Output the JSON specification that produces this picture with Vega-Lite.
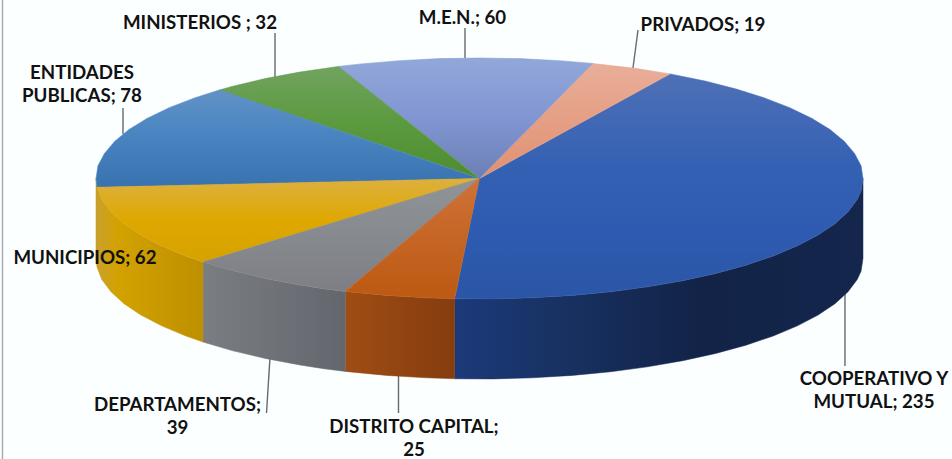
{"$schema":"https://vega.github.io/schema/vega-lite/v6.json","width":952,"height":459,"padding":0,"autosize":{"type":"none"},"background":"#fcffff","view":{"stroke":null},
"encoding":{"x":{"field":"x","type":"quantitative","axis":null,"scale":{"domain":[-1.2503,1.2321],"nice":false,"zero":false}},"y":{"field":"y","type":"quantitative","axis":null,"scale":{"domain":[-2.3278,1.4813],"nice":false,"zero":false}}},
"layer":[
{"data":{"values":[{"x":-1.2438,"y":1.4813,"y2":-2.3278}]},"mark":{"type":"rule","color":"#a9acb0","strokeWidth":1.5},"encoding":{"y2":{"field":"y2"}}},
{"data":{"values":[
{"slice":"MINISTERIOS","x":-0.5332,"y":1.2075,"x2":-0.5332,"y2":0.8423},
{"slice":"M.E.N.","x":-0.0378,"y":1.249,"x2":-0.0378,"y2":1.0},
{"slice":"PRIVADOS","x":0.4133,"y":1.2324,"x2":0.4003,"y2":0.917},
{"slice":"ENTIDADES PUBLICAS","x":-0.9296,"y":0.585,"x2":-0.9296,"y2":0.3693},
{"slice":"DEPARTAMENTOS","x":-0.5463,"y":-1.4896,"x2":-0.5554,"y2":-1.946},
{"slice":"DISTRITO CAPITAL","x":-0.2112,"y":-1.6307,"x2":-0.2112,"y2":-1.946},
{"slice":"COOPERATIVO Y MUTUAL","x":0.953,"y":-0.9502,"x2":0.953,"y2":-1.556}]},
"mark":{"type":"rule","color":"#666a6e","strokeWidth":1.4},"encoding":{"x2":{"field":"x2"},"y2":{"field":"y2"}}},
{"data":{"values":[{"i":0,"x":1,"y":0},{"i":1,"x":0.995,"y":-0.105},{"i":2,"x":0.985,"y":-0.174},{"i":3,"x":0.961,"y":-0.276},{"i":4,"x":0.927,"y":-0.375},{"i":5,"x":0.883,"y":-0.469},{"i":6,"x":0.829,"y":-0.559},{"i":7,"x":0.766,"y":-0.643},{"i":8,"x":0.695,"y":-0.719},{"i":9,"x":0.616,"y":-0.788},{"i":10,"x":0.53,"y":-0.848},{"i":11,"x":0.438,"y":-0.899},{"i":12,"x":0.342,"y":-0.94},{"i":13,"x":0.242,"y":-0.97},{"i":14,"x":0.139,"y":-0.99},{"i":15,"x":0.035,"y":-0.999},{"i":16,"x":-0.065,"y":-0.998},{"i":17,"x":-0.065,"y":-1.662},{"i":18,"x":0.035,"y":-1.663},{"i":19,"x":0.139,"y":-1.654},{"i":20,"x":0.242,"y":-1.634},{"i":21,"x":0.342,"y":-1.604},{"i":22,"x":0.438,"y":-1.563},{"i":23,"x":0.53,"y":-1.512},{"i":24,"x":0.616,"y":-1.452},{"i":25,"x":0.695,"y":-1.383},{"i":26,"x":0.766,"y":-1.307},{"i":27,"x":0.829,"y":-1.223},{"i":28,"x":0.883,"y":-1.133},{"i":29,"x":0.927,"y":-1.039},{"i":30,"x":0.961,"y":-0.94},{"i":31,"x":0.985,"y":-0.838},{"i":32,"x":0.995,"y":-0.769},{"i":33,"x":1,"y":-0.664}]},
"mark":{"type":"line","interpolate":"linear-closed","stroke":"#152b56","strokeWidth":0.5,"fill":{"gradient":"linear","x1":0,"y1":0,"x2":1,"y2":0,"stops":[{"offset":0,"color":"#1c3a7a"},{"offset":0.3,"color":"#17305f"},{"offset":0.6,"color":"#122347"},{"offset":1,"color":"#14264c"}]}},"encoding":{"order":{"field":"i","type":"quantitative"}}},
{"data":{"values":[{"i":0,"x":-0.065,"y":-0.998},{"i":1,"x":-0.139,"y":-0.99},{"i":2,"x":-0.242,"y":-0.97},{"i":3,"x":-0.35,"y":-0.937},{"i":4,"x":-0.35,"y":-1.601},{"i":5,"x":-0.242,"y":-1.634},{"i":6,"x":-0.139,"y":-1.654},{"i":7,"x":-0.065,"y":-1.662}]},
"mark":{"type":"line","interpolate":"linear-closed","stroke":"#924512","strokeWidth":0.5,"fill":{"gradient":"linear","x1":0,"y1":0,"x2":1,"y2":0,"stops":[{"offset":0,"color":"#9f4d14"},{"offset":1,"color":"#853c0f"}]}},"encoding":{"order":{"field":"i","type":"quantitative"}}},
{"data":{"values":[{"i":0,"x":-0.35,"y":-0.937},{"i":1,"x":-0.407,"y":-0.914},{"i":2,"x":-0.469,"y":-0.883},{"i":3,"x":-0.559,"y":-0.829},{"i":4,"x":-0.643,"y":-0.766},{"i":5,"x":-0.721,"y":-0.693},{"i":6,"x":-0.721,"y":-1.357},{"i":7,"x":-0.643,"y":-1.43},{"i":8,"x":-0.559,"y":-1.493},{"i":9,"x":-0.469,"y":-1.547},{"i":10,"x":-0.407,"y":-1.578},{"i":11,"x":-0.35,"y":-1.601}]},
"mark":{"type":"line","interpolate":"linear-closed","stroke":"#6e7176","strokeWidth":0.5,"fill":{"gradient":"linear","x1":0,"y1":0,"x2":1,"y2":0,"stops":[{"offset":0,"color":"#7a7e82"},{"offset":1,"color":"#63666d"}]}},"encoding":{"order":{"field":"i","type":"quantitative"}}},
{"data":{"values":[{"i":0,"x":-0.721,"y":-0.693},{"i":1,"x":-0.766,"y":-0.643},{"i":2,"x":-0.829,"y":-0.559},{"i":3,"x":-0.883,"y":-0.469},{"i":4,"x":-0.927,"y":-0.375},{"i":5,"x":-0.961,"y":-0.276},{"i":6,"x":-0.985,"y":-0.174},{"i":7,"x":-0.9973,"y":-0.0732},{"i":8,"x":-1,"y":0},{"i":9,"x":-1,"y":-0.664},{"i":10,"x":-0.9973,"y":-0.7372},{"i":11,"x":-0.985,"y":-0.838},{"i":12,"x":-0.961,"y":-0.94},{"i":13,"x":-0.927,"y":-1.039},{"i":14,"x":-0.883,"y":-1.133},{"i":15,"x":-0.829,"y":-1.223},{"i":16,"x":-0.766,"y":-1.307},{"i":17,"x":-0.721,"y":-1.357}]},
"mark":{"type":"line","interpolate":"linear-closed","stroke":"#c99a08","strokeWidth":0.5,"fill":{"gradient":"linear","x1":0,"y1":0,"x2":1,"y2":0,"stops":[{"offset":0,"color":"#c9a030"},{"offset":0.2,"color":"#d3a200"},{"offset":1,"color":"#be8f00"}]}},"encoding":{"order":{"field":"i","type":"quantitative"}}},
{"data":{"values":[{"i":0,"x":0,"y":0},{"i":1,"x":0.497,"y":0.868},{"i":2,"x":0.588,"y":0.809},{"i":3,"x":0.669,"y":0.743},{"i":4,"x":0.743,"y":0.669},{"i":5,"x":0.809,"y":0.588},{"i":6,"x":0.866,"y":0.5},{"i":7,"x":0.914,"y":0.407},{"i":8,"x":0.951,"y":0.309},{"i":9,"x":0.978,"y":0.208},{"i":10,"x":0.995,"y":0.105},{"i":11,"x":1,"y":0},{"i":12,"x":0.995,"y":-0.105},{"i":13,"x":0.985,"y":-0.174},{"i":14,"x":0.961,"y":-0.276},{"i":15,"x":0.927,"y":-0.375},{"i":16,"x":0.883,"y":-0.469},{"i":17,"x":0.829,"y":-0.559},{"i":18,"x":0.766,"y":-0.643},{"i":19,"x":0.695,"y":-0.719},{"i":20,"x":0.616,"y":-0.788},{"i":21,"x":0.53,"y":-0.848},{"i":22,"x":0.438,"y":-0.899},{"i":23,"x":0.342,"y":-0.94},{"i":24,"x":0.242,"y":-0.97},{"i":25,"x":0.139,"y":-0.99},{"i":26,"x":0.035,"y":-0.999},{"i":27,"x":-0.065,"y":-0.998}]},
"mark":{"type":"line","interpolate":"linear-closed","stroke":"#3a62b2","strokeWidth":0.5,"fill":{"gradient":"linear","x1":0,"y1":0,"x2":0,"y2":1,"stops":[{"offset":0,"color":"#4f70b6"},{"offset":0.4,"color":"#3561b4"},{"offset":0.7,"color":"#2e5bb1"},{"offset":1,"color":"#2b56a6"}]}},"encoding":{"order":{"field":"i","type":"quantitative"}}},
{"data":{"values":[{"i":0,"x":0,"y":0},{"i":1,"x":0.295,"y":0.955},{"i":2,"x":0.407,"y":0.914},{"i":3,"x":0.497,"y":0.868}]},
"mark":{"type":"line","interpolate":"linear-closed","stroke":"#e7a58c","strokeWidth":0.5,"fill":{"gradient":"linear","x1":0,"y1":0,"x2":0,"y2":1,"stops":[{"offset":0,"color":"#e9ae99"},{"offset":1,"color":"#e19070"}]}},"encoding":{"order":{"field":"i","type":"quantitative"}}},
{"data":{"values":[{"i":0,"x":0,"y":0},{"i":1,"x":-0.368,"y":0.93},{"i":2,"x":-0.309,"y":0.951},{"i":3,"x":-0.208,"y":0.978},{"i":4,"x":-0.105,"y":0.995},{"i":5,"x":0,"y":1},{"i":6,"x":0.105,"y":0.995},{"i":7,"x":0.208,"y":0.978},{"i":8,"x":0.295,"y":0.955}]},
"mark":{"type":"line","interpolate":"linear-closed","stroke":"#8398d0","strokeWidth":0.5,"fill":{"gradient":"linear","x1":0,"y1":0,"x2":0,"y2":1,"stops":[{"offset":0,"color":"#92a7d9"},{"offset":0.5,"color":"#8196d2"},{"offset":1,"color":"#6c7eb4"}]}},"encoding":{"order":{"field":"i","type":"quantitative"}}},
{"data":{"values":[{"i":0,"x":0,"y":0},{"i":1,"x":-0.678,"y":0.735},{"i":2,"x":-0.643,"y":0.766},{"i":3,"x":-0.559,"y":0.829},{"i":4,"x":-0.469,"y":0.883},{"i":5,"x":-0.368,"y":0.93}]},
"mark":{"type":"line","interpolate":"linear-closed","stroke":"#5b9845","strokeWidth":0.5,"fill":{"gradient":"linear","x1":0,"y1":0,"x2":0,"y2":1,"stops":[{"offset":0,"color":"#72a360"},{"offset":0.5,"color":"#5b9a3f"},{"offset":1,"color":"#4f8c30"}]}},"encoding":{"order":{"field":"i","type":"quantitative"}}},
{"data":{"values":[{"i":0,"x":0,"y":0},{"i":1,"x":-0.9973,"y":-0.0732},{"i":2,"x":-1,"y":0},{"i":3,"x":-0.995,"y":0.105},{"i":4,"x":-0.978,"y":0.208},{"i":5,"x":-0.951,"y":0.309},{"i":6,"x":-0.914,"y":0.407},{"i":7,"x":-0.866,"y":0.5},{"i":8,"x":-0.809,"y":0.588},{"i":9,"x":-0.743,"y":0.669},{"i":10,"x":-0.678,"y":0.735}]},
"mark":{"type":"line","interpolate":"linear-closed","stroke":"#4a85c2","strokeWidth":0.5,"fill":{"gradient":"linear","x1":0,"y1":0,"x2":0,"y2":1,"stops":[{"offset":0,"color":"#6292c6"},{"offset":0.45,"color":"#4a85c2"},{"offset":1,"color":"#3873b0"}]}},"encoding":{"order":{"field":"i","type":"quantitative"}}},
{"data":{"values":[{"i":0,"x":0,"y":0},{"i":1,"x":-0.721,"y":-0.693},{"i":2,"x":-0.766,"y":-0.643},{"i":3,"x":-0.829,"y":-0.559},{"i":4,"x":-0.883,"y":-0.469},{"i":5,"x":-0.927,"y":-0.375},{"i":6,"x":-0.961,"y":-0.276},{"i":7,"x":-0.985,"y":-0.174},{"i":8,"x":-0.9973,"y":-0.0732}]},
"mark":{"type":"line","interpolate":"linear-closed","stroke":"#dfa918","strokeWidth":0.5,"fill":{"gradient":"linear","x1":0,"y1":0,"x2":0,"y2":1,"stops":[{"offset":0,"color":"#ddb040"},{"offset":0.5,"color":"#dea800"},{"offset":1,"color":"#d6a200"}]}},"encoding":{"order":{"field":"i","type":"quantitative"}}},
{"data":{"values":[{"i":0,"x":0,"y":0},{"i":1,"x":-0.35,"y":-0.937},{"i":2,"x":-0.407,"y":-0.914},{"i":3,"x":-0.469,"y":-0.883},{"i":4,"x":-0.559,"y":-0.829},{"i":5,"x":-0.643,"y":-0.766},{"i":6,"x":-0.721,"y":-0.693}]},
"mark":{"type":"line","interpolate":"linear-closed","stroke":"#85888c","strokeWidth":0.5,"fill":{"gradient":"linear","x1":0,"y1":0,"x2":0,"y2":1,"stops":[{"offset":0,"color":"#909497"},{"offset":1,"color":"#7d7f84"}]}},"encoding":{"order":{"field":"i","type":"quantitative"}}},
{"data":{"values":[{"i":0,"x":0,"y":0},{"i":1,"x":-0.065,"y":-0.998},{"i":2,"x":-0.139,"y":-0.99},{"i":3,"x":-0.242,"y":-0.97},{"i":4,"x":-0.35,"y":-0.937}]},
"mark":{"type":"line","interpolate":"linear-closed","stroke":"#c4641f","strokeWidth":0.5,"fill":{"gradient":"linear","x1":0,"y1":0,"x2":0,"y2":1,"stops":[{"offset":0,"color":"#cf7238"},{"offset":1,"color":"#bc5912"}]}},"encoding":{"order":{"field":"i","type":"quantitative"}}},
{"data":{"values":[
{"slice":"MINISTERIOS","value":32,"label":"MINISTERIOS ; 32","x":-0.7288,"y":1.2905},
{"slice":"M.E.N.","value":60,"label":"M.E.N.; 60","x":-0.0443,"y":1.332},
{"slice":"PRIVADOS","value":19,"label":"PRIVADOS; 19","x":0.5828,"y":1.2739},
{"slice":"ENTIDADES PUBLICAS","value":78,"label":"ENTIDADES\nPUBLICAS; 78","x":-1.0365,"y":0.8714},
{"slice":"MUNICIPIOS","value":62,"label":"MUNICIPIOS; 62","x":-1.0287,"y":-0.6598},
{"slice":"DEPARTAMENTOS","value":39,"label":"DEPARTAMENTOS;\n39","x":-0.7875,"y":-1.8838},
{"slice":"DISTRITO CAPITAL","value":25,"label":"DISTRITO CAPITAL;\n25","x":-0.1708,"y":-2.0581},
{"slice":"COOPERATIVO Y MUTUAL","value":235,"label":"COOPERATIVO Y\nMUTUAL; 235","x":1.0287,"y":-1.668}]},
"mark":{"type":"text","font":"Lato","fontWeight":"bold","fontSize":18.7,"color":"#111111","align":"center","baseline":"middle","lineBreak":"\n","lineHeight":23},"encoding":{"text":{"field":"label","type":"nominal"}}}
]}
